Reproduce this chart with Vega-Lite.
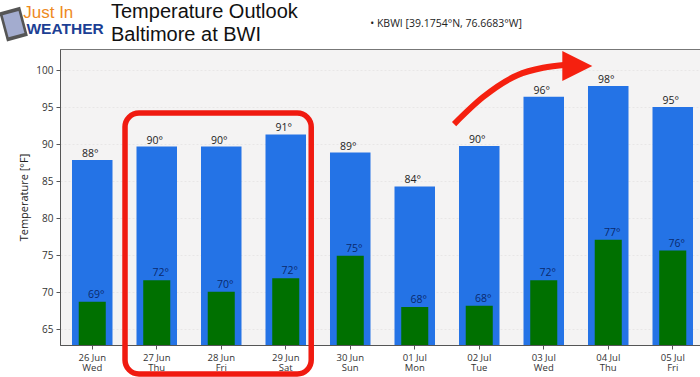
{
"$schema":"https://vega.github.io/schema/vega-lite/v6.json",
"width":640,"height":296,
"autosize":{"type":"none"},
"padding":{"left":60,"top":49,"right":0,"bottom":32},
"background":"white",
"title":{"text":["Temperature Outlook","Baltimore at BWI"],"anchor":"start","frame":"group","font":"Liberation Sans","fontSize":20,"fontWeight":"normal","color":"#111111","lineHeight":23.5,"dx":51,"offset":-61,"baseline":"bottom"},
"config":{"view":{"fill":"#f4f3f3","stroke":"#777777","strokeWidth":1},"font":"Open Sans"},
"datasets":{
"days":[
{"day":"26 Jun|Wed","high":87.84,"low":68.7,"highLabel":"88°","lowLabel":"69°"},
{"day":"27 Jun|Thu","high":89.66,"low":71.6,"highLabel":"90°","lowLabel":"72°"},
{"day":"28 Jun|Fri","high":89.66,"low":70.04,"highLabel":"90°","lowLabel":"70°"},
{"day":"29 Jun|Sat","high":91.3,"low":71.85,"highLabel":"91°","lowLabel":"72°"},
{"day":"30 Jun|Sun","high":88.85,"low":74.9,"highLabel":"89°","lowLabel":"75°"},
{"day":"01 Jul|Mon","high":84.26,"low":67.97,"highLabel":"84°","lowLabel":"68°"},
{"day":"02 Jul|Tue","high":89.73,"low":68.15,"highLabel":"90°","lowLabel":"68°"},
{"day":"03 Jul|Wed","high":96.4,"low":71.6,"highLabel":"96°","lowLabel":"72°"},
{"day":"04 Jul|Thu","high":97.84,"low":77.07,"highLabel":"98°","lowLabel":"77°"},
{"day":"05 Jul|Fri","high":95,"low":75.6,"highLabel":"95°","lowLabel":"76°"}
],
"box":[{"a":0.508,"b":3.395,"t":94.19,"u":58.92}],
"arrow":[
{"i":5.61,"t":92.7,"o":1},
{"i":6.06,"t":96.35,"o":2},
{"i":6.59,"t":99.3,"o":3},
{"i":6.99,"t":100.3,"o":4},
{"i":7.35,"t":100.7,"o":5}
],
"head":[{"i":7.52,"t":100.54}],
"phone":[{"i":-1.22,"t":106.2}],
"just":[{"i":-1.07,"t":107.0,"label":"Just In"}],
"weather":[{"i":-1.02,"t":104.86,"label":"WEATHER"}],
"station":[{"i":4.31,"t":105.8,"label":"• KBWI [39.1754°N, 76.6683°W]"}]
},
"layer":[
{
"data":{"name":"days"},
"encoding":{
"x":{"field":"day","type":"nominal","sort":null,
 "scale":{"range":[0,645],"paddingInner":0.372,"paddingOuter":0.186},
 "axis":{"title":null,"labelExpr":"split(datum.label,'|')","labelAngle":0,"labelFont":"Open Sans","labelFontSize":9.5,"labelColor":"#333333","labelLineHeight":10.5,"labelPadding":3,"tickColor":"#555555","tickSize":4,"domainColor":"#555555","labelBaseline":"top"}}
},
"layer":[
{"mark":{"type":"bar","color":"#2473e6"},
 "encoding":{"y":{"field":"high","type":"quantitative","scale":{"domain":[62.84,102.84],"zero":false,"nice":false},
   "axis":{"values":[65,70,75,80,85,90,95,100],"title":"Temperature [°F]","titleFont":"Open Sans","titleFontSize":11,"titleFontWeight":"normal","titleColor":"#222222","titlePadding":6,"labelFont":"Open Sans","labelFontSize":10,"labelColor":"#333333","tickColor":"#555555","tickSize":4,"domainColor":"#555555","grid":true,"gridColor":"#e8e6e6","gridDash":[2,2],"labelPadding":3}},
  "y2":{"datum":62.84}}},
{"mark":{"type":"bar","color":"#007000","width":{"band":0.667}},
 "encoding":{"y":{"field":"low","type":"quantitative"},"y2":{"datum":62.84}}},
{"mark":{"type":"text","font":"Open Sans","fontSize":10.5,"color":"#222222","baseline":"alphabetic","dx":-2,"dy":-3},
 "encoding":{"y":{"field":"high","type":"quantitative"},"text":{"field":"highLabel"}}},
{"mark":{"type":"text","font":"Open Sans","fontSize":10.5,"color":"#0a2a6e","baseline":"alphabetic","dx":4,"dy":-4},
 "encoding":{"y":{"field":"low","type":"quantitative"},"text":{"field":"lowLabel"}}}
]
},
{
"encoding":{
"x":{"field":"i","type":"quantitative","scale":{"domain":[-0.5,9.5],"range":[0,645],"nice":false,"zero":false},"axis":null},
"y":{"field":"t","type":"quantitative"}
},
"layer":[
{"data":{"name":"station"},"mark":{"type":"text","font":"Open Sans","fontSize":10.5,"color":"#222222","align":"left","baseline":"alphabetic"},"encoding":{"text":{"field":"label"}}},
{"data":{"name":"box"},"mark":{"type":"rect","fill":null,"stroke":"#f01a10","strokeWidth":5.5,"cornerRadius":14,"fillOpacity":0},
 "encoding":{"x":{"field":"a","type":"quantitative"},"x2":{"field":"b"},"y":{"field":"t","type":"quantitative"},"y2":{"field":"u"}}},
{"data":{"name":"arrow"},"mark":{"type":"line","color":"#f5200f","strokeWidth":6,"interpolate":"monotone","strokeCap":"butt"},
 "encoding":{"order":{"field":"o","type":"quantitative"}}},
{"data":{"name":"head"},"mark":{"type":"point","filled":true,"shape":"M-1,-1L1,0L-1,1Z","size":900,"color":"#f5200f","opacity":1},"encoding":{}},
{"data":{"name":"phone"},"mark":{"type":"point","filled":true,"shape":"M-0.72,-1H0.72V1H-0.72Z","size":900,"color":"#555555","opacity":1,"angle":345},"encoding":{}},
{"data":{"name":"phone"},"mark":{"type":"point","filled":true,"shape":"M-0.72,-1H0.72V1H-0.72Z","size":520,"color":"#a3accf","opacity":1,"angle":345},"encoding":{}},
{"data":{"name":"just"},"mark":{"type":"text","font":"Liberation Sans","fontSize":17,"color":"#ee8a1e","align":"left","baseline":"alphabetic"},"encoding":{"text":{"field":"label"}}},
{"data":{"name":"weather"},"mark":{"type":"text","font":"Liberation Sans","fontWeight":"bold","fontSize":15.5,"color":"#1c3f94","align":"left","baseline":"alphabetic"},"encoding":{"text":{"field":"label"}}}
]
}
],
"resolve":{"scale":{"x":"independent"},"axis":{"x":"independent"}}
}
